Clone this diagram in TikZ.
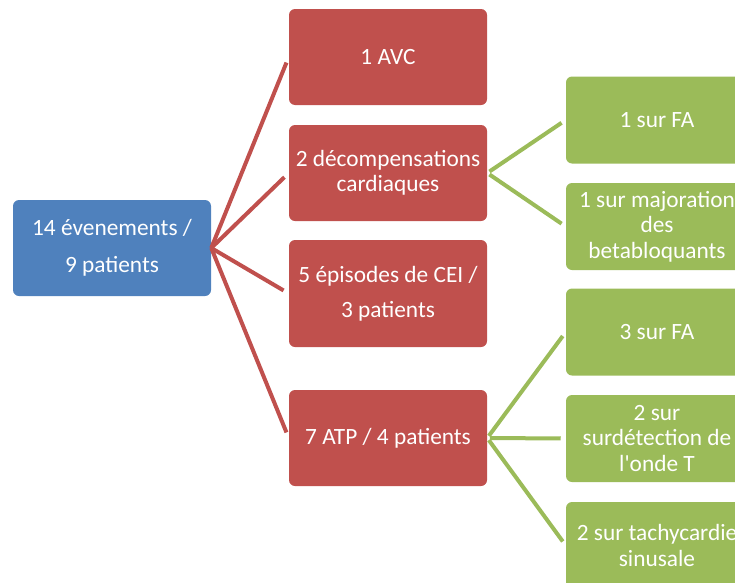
\documentclass[tikz,border=0pt]{standalone}
\usepackage{fontspec}
\setmainfont{Carlito}[Ligatures=TeXOff]
\definecolor{oblue}{HTML}{4F81BD}
\definecolor{ored}{HTML}{C0504D}
\definecolor{ogreen}{HTML}{9BBB59}
\begin{document}
\begin{tikzpicture}[x=0.75pt,y=-0.75pt,
  box/.style={rounded corners=4.5pt, text=white, align=center, inner sep=0pt,
    font=\fontsize{17.5}{19}\selectfont},
  rootbox/.style={box, fill=oblue, minimum width=148.5pt, minimum height=72pt},
  redbox/.style={box, fill=ored, minimum width=148.5pt, minimum height=72pt},
  greenbox/.style={box, fill=ogreen, minimum width=136.5pt, minimum height=65.25pt},
  redline/.style={draw=ored, line width=3pt, shorten >=4.5pt},
  greenline/.style={draw=ogreen, line width=3pt, shorten >=3.75pt, shorten <=2pt}]
\useasboundingbox (0,0) rectangle (735,582);
\clip (0,0) rectangle (735,582);
\node[rootbox] (root) at (112,248) {14 évenements /\\[8.5pt]9 patients};
\node[redbox] (r1) at (388,57) {1 AVC};
\node[redbox] (r2) at (388,173) {2 décompensations\\cardiaques};
\node[redbox, minimum height=80.25pt] (r3) at (388,293.5) {5 épisodes de CEI /\\[7pt]3 patients};
\node[redbox] (r4) at (388,438) {7 ATP / 4 patients};
\node[greenbox] (g1) at (657,120) {1 sur FA};
\node[greenbox] (g2) at (657,226.5) {1 sur majoration\\des\\betabloquants};
\node[greenbox] (g3) at (657,332) {3 sur FA};
\node[greenbox] (g4) at (657,438.5) {2 sur\\surdétection de\\l'onde T};
\node[greenbox] (g5) at (657,545.5) {2 sur tachycardie\\sinusale};
\foreach \t in {r1,r2,r3,r4}
  \draw[redline] (root.east) -- (\t.west);
\foreach \t in {g1,g2}
  \draw[greenline] (r2.east) -- (\t.west);
\foreach \t in {g3,g4,g5}
  \draw[greenline] (r4.east) -- (\t.west);
\end{tikzpicture}
\end{document}
